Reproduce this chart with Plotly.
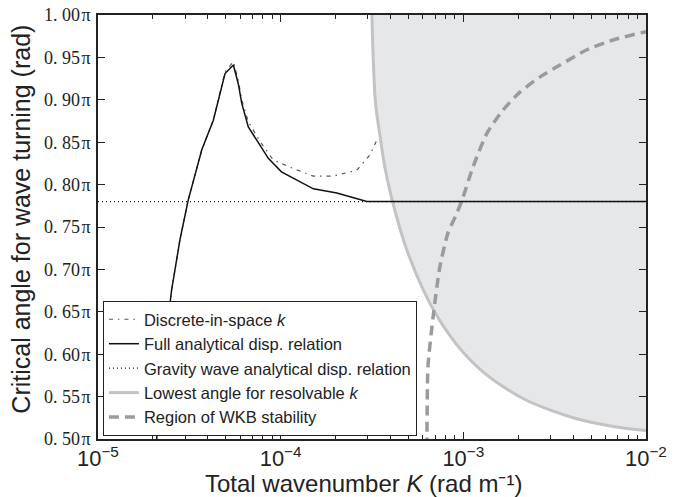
import plotly.graph_objects as go

# ---------------- data ----------------
# Full analytical dispersion relation
k_full = [2.05e-5, 2.18e-5, 2.33e-5, 2.43e-5, 2.53e-5, 2.81e-5, 3.12e-5, 3.70e-5,
          4.28e-5, 4.96e-5, 5.51e-5, 5.86e-5, 6.12e-5, 6.65e-5, 7.39e-5, 8.56e-5,
          1.01e-4, 1.51e-4, 2.03e-4, 2.96e-4, 1.0e-3, 1.0e-2]
ang_full = [0.475, 0.546, 0.619, 0.644, 0.676, 0.735, 0.782, 0.841,
            0.876, 0.931, 0.941, 0.919, 0.896, 0.868, 0.853, 0.831,
            0.815, 0.795, 0.790, 0.780, 0.780, 0.780]

# Discrete-in-space k
k_disc = [2.05e-5, 2.18e-5, 2.33e-5, 2.43e-5, 2.53e-5, 2.81e-5, 3.12e-5, 3.70e-5,
          4.28e-5, 4.96e-5, 5.51e-5, 5.86e-5, 6.12e-5, 6.65e-5, 7.70e-5, 9.11e-5,
          1.17e-4, 1.51e-4, 1.94e-4, 2.61e-4, 3.08e-4, 3.42e-4]
ang_disc = [0.475, 0.546, 0.619, 0.644, 0.676, 0.735, 0.782, 0.841,
            0.876, 0.933, 0.945, 0.923, 0.900, 0.874, 0.851, 0.829,
            0.819, 0.810, 0.810, 0.817, 0.835, 0.856]

# Gravity wave analytical dispersion relation
k_grav = [1.0e-5, 1.0e-2]
ang_grav = [0.78, 0.78]

# Lowest angle for resolvable k
k_res = [3.16e-4, 3.19e-4, 3.23e-4, 3.28e-4, 3.35e-4, 3.45e-4, 3.70e-4, 4.00e-4,
         4.50e-4, 5.00e-4, 6.00e-4, 7.00e-4, 8.50e-4, 1.0e-3, 1.3e-3, 1.7e-3,
         2.2e-3, 3.0e-3, 4.0e-3, 5.5e-3, 7.5e-3, 1.0e-2]
ang_res = [1.000, 0.965, 0.935, 0.905, 0.885, 0.866, 0.823, 0.789,
           0.748, 0.718, 0.677, 0.649, 0.621, 0.602, 0.578, 0.560,
           0.546, 0.534, 0.525, 0.518, 0.513, 0.510]

# Region of WKB stability
k_wkb = [6.30e-4, 6.32e-4, 6.40e-4, 6.83e-4, 7.44e-4, 8.24e-4, 9.23e-4, 9.96e-4,
         1.13e-3, 1.35e-3, 1.65e-3, 2.04e-3, 2.63e-3, 3.38e-3, 4.75e-3, 6.59e-3,
         9.86e-3, 1.0e-2]
ang_wkb = [0.49, 0.50, 0.585, 0.644, 0.703, 0.743, 0.7665, 0.785,
           0.821, 0.861, 0.888, 0.909, 0.927, 0.941, 0.959, 0.9705,
           0.980, 0.980]

y_ticks = [0.50, 0.55, 0.60, 0.65, 0.70, 0.75, 0.80, 0.85, 0.90, 0.95, 1.00]
y_tick_text = ["0. %02d\u200a\u03c0" % round((v % 1) * 100) if v < 1 else "1. 00\u200a\u03c0"
               for v in y_ticks]
x_title = "Total wavenumber <i>K</i> (rad m\u207b\u00b9)"
y_title = "Critical angle for wave turning (rad)"
X_RANGE = [1e-5, 1e-2]
Y_RANGE = [0.5, 1.0]

# ---------------- figure ----------------
SANS = "Liberation Sans, Arial, sans-serif"
SERIF = "Liberation Serif, DejaVu Serif, serif"
INK = "#222222"

fig = go.Figure()

# shaded region above the resolvable-k curve
fig.add_trace(go.Scatter(
    x=k_res + [X_RANGE[1]], y=ang_res + [Y_RANGE[1]],
    mode="lines", fill="toself", fillcolor="#e6e7e8",
    line=dict(width=0), showlegend=False, hoverinfo="skip"))

fig.add_trace(go.Scatter(
    x=k_res, y=ang_res, mode="lines", name="Lowest angle for resolvable <i>k</i>",
    line=dict(color="#c3c3c5", width=3, shape="spline", smoothing=0.6), legendrank=4))

fig.add_trace(go.Scatter(
    x=k_wkb, y=ang_wkb, mode="lines", name="Region of WKB stability",
    line=dict(color="#9b9b9b", width=3.5, dash="10px,6px", shape="spline", smoothing=0.6),
    legendrank=5))

fig.add_trace(go.Scatter(
    x=k_grav, y=ang_grav, mode="lines", name="Gravity wave analytical disp. relation",
    line=dict(color="#111111", width=1.2, dash="1px,3px"), legendrank=3))

fig.add_trace(go.Scatter(
    x=k_disc, y=ang_disc, mode="lines", name="Discrete-in-space <i>k</i>",
    line=dict(color="#555555", width=1.2, dash="4px,5px,1.5px,5px"), legendrank=1))

fig.add_trace(go.Scatter(
    x=k_full, y=ang_full, mode="lines", name="Full analytical disp. relation",
    line=dict(color="#111111", width=1.5), legendrank=2))

fig.update_layout(
    width=680, height=497,
    margin=dict(l=98, r=34, t=15, b=58),
    plot_bgcolor="white", paper_bgcolor="white",
    font=dict(family=SANS, color=INK),
    legend=dict(
        x=0.009, y=0.007, xanchor="left", yanchor="bottom",
        bgcolor="white", bordercolor=INK, borderwidth=1,
        font=dict(family=SANS, size=16.5, color=INK),
        tracegroupgap=0, itemwidth=30),
    annotations=[
        dict(text=x_title, xref="paper", yref="paper", x=0.4845, y=-0.104,
             xanchor="center", yanchor="middle", showarrow=False,
             font=dict(family=SANS, size=24, color=INK)),
        dict(text=y_title, xref="paper", yref="paper", x=-0.141, y=0.519,
             xanchor="center", yanchor="middle", showarrow=False, textangle=-90,
             font=dict(family=SANS, size=25, color=INK)),
    ],
)

fig.update_xaxes(
    type="log", range=[-5, -2], dtick=1, exponentformat="power",
    automargin=False,
    showgrid=False, zeroline=False,
    showline=True, linecolor=INK, linewidth=1.8, mirror="allticks",
    ticks="inside", ticklen=7, tickwidth=1.2, tickcolor=INK,
    tickfont=dict(family=SANS, size=17.5, color=INK),
    minor=dict(ticks="inside", ticklen=4, tickwidth=1, tickcolor=INK,
               dtick="D1", showgrid=False),
)

fig.update_yaxes(
    range=Y_RANGE, tickvals=y_ticks, ticktext=y_tick_text,
    automargin=False,
    showgrid=False, zeroline=False,
    showline=True, linecolor=INK, linewidth=1.8, mirror="allticks",
    ticks="inside", ticklen=7, tickwidth=1.2, tickcolor=INK,
    tickfont=dict(family=SERIF, size=18, color=INK), ticklabelstandoff=2,
)

fig.write_html("out.html")
